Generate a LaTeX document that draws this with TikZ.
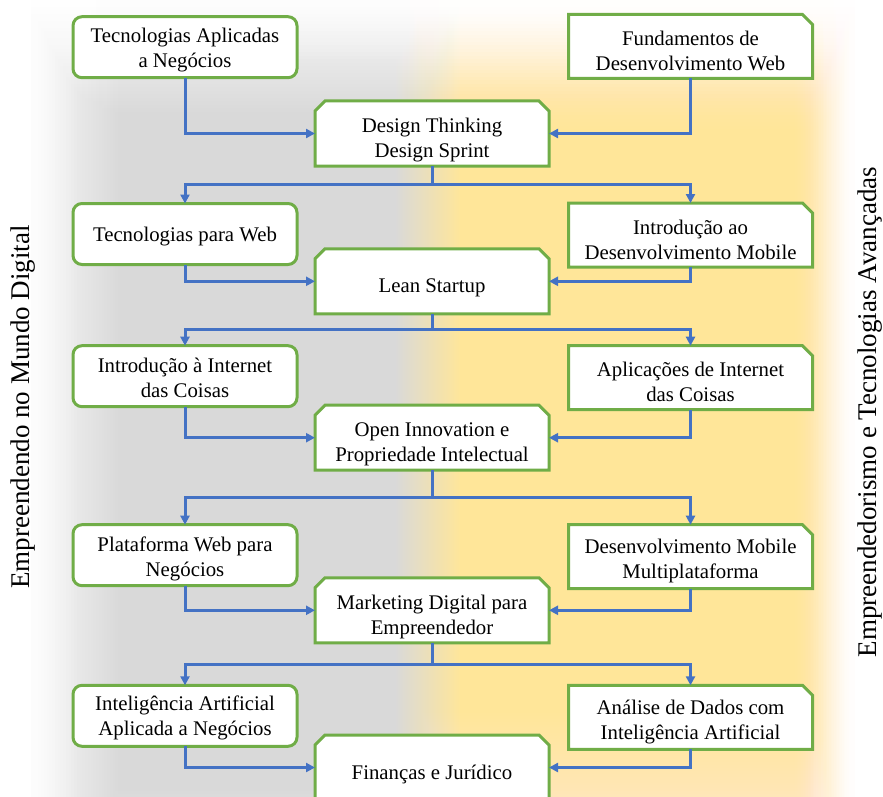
\documentclass[tikz,border=0pt]{standalone}
\usepackage{fontspec}
\setmainfont{Liberation Serif}
\usetikzlibrary{arrows.meta}
\definecolor{boxgreen}{HTML}{70AD47}
\definecolor{connblue}{HTML}{4472C4}
\definecolor{bggray}{HTML}{D9D9D9}
\definecolor{bgyellow}{HTML}{FFE699}
\pgfdeclarelayer{back}
\pgfdeclarelayer{outline}
\pgfsetlayers{back,outline,main}
\newcommand{\boxfont}{\fontsize{20.8}{25}\selectfont}
\newcommand{\sidefont}{\fontsize{27}{32}\selectfont}
\begin{document}
\begin{tikzpicture}[x=1pt,y=-1pt,
  lbox/.style={draw=boxgreen, line width=3pt, fill=white, rounded corners=9pt,
    minimum width=224pt, minimum height=61pt, inner sep=0pt, outer sep=0pt},
  cbox/.style={minimum width=234pt, minimum height=65pt, inner sep=0pt, outer sep=0pt},
  rbox/.style={minimum width=244pt, minimum height=64pt, inner sep=0pt, outer sep=0pt},
  txt/.style={inner sep=0pt, align=center, font=\boxfont},
  snip/.style={draw=boxgreen, line width=3pt, fill=white, line join=miter},
  conn/.style={draw=connblue, line width=3pt, -{Triangle[length=9pt,width=9pt]}},
  sidelabel/.style={font=\sidefont, inner sep=0pt, rotate=90}]
\useasboundingbox (0,0) rectangle (883,797);

% background glow (nested translucent white layers, no seams)
\begin{pgfonlayer}{back}
  \fill[bggray] (0,0) rectangle (396,797);
  \shade[left color=bggray, right color=bgyellow] (395,0) rectangle (461,797);
  \fill[bgyellow] (460,0) rectangle (883,797);
  % left edge
  \fill[white] (0,0) rectangle (30.5,797);
  \foreach \b in {1,...,40}{
    \pgfmathsetmacro{\st}{2.75}
    \pgfmathsetmacro{\tc}{min(1,max(0,(140-(\b-0.5)*\st-30)/110))}
    \pgfmathsetmacro{\tp}{min(1,max(0,(140-(\b-1.5)*\st-30)/110))}
    \pgfmathsetmacro{\gc}{min(0.99,1-\tc*\tc*(3-2*\tc))}
    \pgfmathsetmacro{\gp}{min(0.99,1-\tp*\tp*(3-2*\tp))}
    \pgfmathsetmacro{\al}{1-(1-\gc)/(1-\gp)}
    \pgfmathsetmacro{\xr}{140-(\b-1)*\st}
    \fill[white, fill opacity=\al] (0,0) rectangle (\xr,797);
  }
  % right edge
  \fill[white] (854.5,0) rectangle (883,797);
  \foreach \b in {1,...,40}{
    \pgfmathsetmacro{\st}{1.625}
    \pgfmathsetmacro{\tc}{min(1,max(0,((\b-0.5)*\st)/65))}
    \pgfmathsetmacro{\tp}{min(1,max(0,((\b-1.5)*\st)/65))}
    \pgfmathsetmacro{\gc}{min(0.99,\tc*\tc*(3-2*\tc))}
    \pgfmathsetmacro{\gp}{min(0.99,\tp*\tp*(3-2*\tp))}
    \pgfmathsetmacro{\al}{1-(1-\gc)/(1-\gp)}
    \pgfmathsetmacro{\xl}{790+(\b-1)*\st}
    \fill[white, fill opacity=\al] (\xl,0) rectangle (883,797);
  }
  % top edge
  \foreach \b in {1,...,40}{
    \pgfmathsetmacro{\st}{3.5}
    \pgfmathsetmacro{\tc}{min(1,max(0,(140-(\b-0.5)*\st)/140))}
    \pgfmathsetmacro{\tp}{min(1,max(0,(140-(\b-1.5)*\st)/140))}
    \pgfmathsetmacro{\gc}{min(0.995,1-\tc*\tc*(3-2*\tc))}
    \pgfmathsetmacro{\gp}{min(0.995,1-\tp*\tp*(3-2*\tp))}
    \pgfmathsetmacro{\al}{1-(1-\gc)/(1-\gp)}
    \pgfmathsetmacro{\yb}{140-(\b-1)*\st}
    \fill[white, fill opacity=\al] (0,0) rectangle (883,\yb);
  }
  % bottom edge
  \foreach \b in {1,...,30}{
    \pgfmathsetmacro{\gc}{0.45*(\b-0.5)/30}
    \pgfmathsetmacro{\gp}{max(0,0.45*(\b-1.5)/30)}
    \pgfmathsetmacro{\al}{1-(1-\gc)/(1-\gp)}
    \pgfmathsetmacro{\yt}{710+(\b-1)*2.9}
    \fill[white, fill opacity=\al] (0,\yt) rectangle (883,797);
  }
\end{pgfonlayer}

% box shapes
\node[lbox] (L1) at (185,47.2) {};
\node[rbox] (R1) at (690.5,46.5) {};
\node[cbox] (C1) at (432,133.5) {};
\node[lbox] (L2) at (185,234) {};
\node[rbox] (R2) at (690.5,235) {};
\node[cbox] (C2) at (432,281.3) {};
\node[lbox] (L3) at (185,376.2) {};
\node[rbox] (R3) at (690.5,377.7) {};
\node[cbox] (C3) at (432,437.7) {};
\node[lbox] (L4) at (185,555.2) {};
\node[rbox] (R4) at (690.5,556.7) {};
\node[cbox] (C4) at (432,610.3) {};
\node[lbox] (L5) at (185,715.8) {};
\node[rbox] (R5) at (690.5,717.3) {};
\node[cbox] (C5) at (432,767.5) {};

% snipped outlines
\begin{pgfonlayer}{outline}
  \foreach \n in {R1,R2,R3,R4,R5}
    \filldraw[snip] (\n.south west) -- (\n.north west) -- ([xshift=-10pt]\n.north east)
      -- ([yshift=-10pt]\n.north east) -- (\n.south east) -- cycle;
  \foreach \n in {C1,C2,C3,C4,C5}
    \filldraw[snip] (\n.south west) -- ([yshift=-10pt]\n.north west) -- ([xshift=10pt]\n.north west)
      -- ([xshift=-10pt]\n.north east) -- ([yshift=-10pt]\n.north east) -- (\n.south east) -- cycle;
\end{pgfonlayer}

% box texts
\node[txt] (L1t) at ([yshift=-3pt]L1.center) {Tecnologias Aplicadas\\a Negócios};
\node[txt] (R1t) at ([yshift=-4.5pt]R1.center) {Fundamentos de\\Desenvolvimento Web};
\node[txt] (C1t) at ([yshift=-6.5pt]C1.center) {Design Thinking\\Design Sprint};
\node[txt] (L2t) at ([yshift=-3pt]L2.center) {Tecnologias para Web};
\node[txt] (R2t) at ([yshift=-4.5pt]R2.center) {Introdução ao\\Desenvolvimento Mobile};
\node[txt] (C2t) at ([yshift=-6.5pt]C2.center) {Lean Startup};
\node[txt] (L3t) at ([yshift=-2pt]L3.center) {Introdução à Internet\\das Coisas};
\node[txt] (R3t) at ([yshift=-4pt]R3.center) {Aplicações de Internet\\das Coisas};
\node[txt] (C3t) at ([yshift=-6.5pt]C3.center) {Open Innovation e\\Propriedade Intelectual};
\node[txt] (L4t) at ([yshift=-3.5pt]L4.center) {Plataforma Web para\\Negócios};
\node[txt] (R4t) at ([yshift=-4.5pt]R4.center) {Desenvolvimento Mobile\\Multiplataforma};
\node[txt] (C4t) at ([yshift=-6.5pt]C4.center) {Marketing Digital para\\Empreendedor};
\node[txt] (L5t) at ([yshift=-2.5pt]L5.center) {Inteligência Artificial\\Aplicada a Negócios};
\node[txt] (R5t) at ([yshift=-5pt]R5.center) {Análise de Dados com\\Inteligência Artificial};
\node[txt] (C5t) at ([yshift=-6.5pt]C5.center) {Finanças e Jurídico};

% junctions
\coordinate (J1) at (432,184.5);
\coordinate (J2) at (432,329.5);
\coordinate (J3) at (432,497);
\coordinate (J4) at (432,664);

% connectors
\draw[conn] (L1.south) |- (C1.west);
\draw[conn] (R1.south) |- (C1.east);
\draw[conn] (C1.south) -- (J1) -| (L2.north);
\draw[conn] (C1.south) -- (J1) -| (R2.north);

\draw[conn] (L2.south) |- (C2.west);
\draw[conn] (R2.south) |- (C2.east);
\draw[conn] (C2.south) -- (J2) -| (L3.north);
\draw[conn] (C2.south) -- (J2) -| (R3.north);

\draw[conn] (L3.south) |- (C3.west);
\draw[conn] (R3.south) |- (C3.east);
\draw[conn] (C3.south) -- (J3) -| (L4.north);
\draw[conn] (C3.south) -- (J3) -| (R4.north);

\draw[conn] (L4.south) |- (C4.west);
\draw[conn] (R4.south) |- (C4.east);
\draw[conn] (C4.south) -- (J4) -| (L5.north);
\draw[conn] (C4.south) -- (J4) -| (R5.north);

\draw[conn] (L5.south) |- (C5.west);
\draw[conn] (R5.south) |- (C5.east);

% side labels
\node[sidelabel] (SL) at (23,407) {Empreendendo no Mundo Digital};
\node[sidelabel] (SR) at (870,412) {Empreendedorismo e Tecnologias Avançadas};
\end{tikzpicture}
\end{document}
